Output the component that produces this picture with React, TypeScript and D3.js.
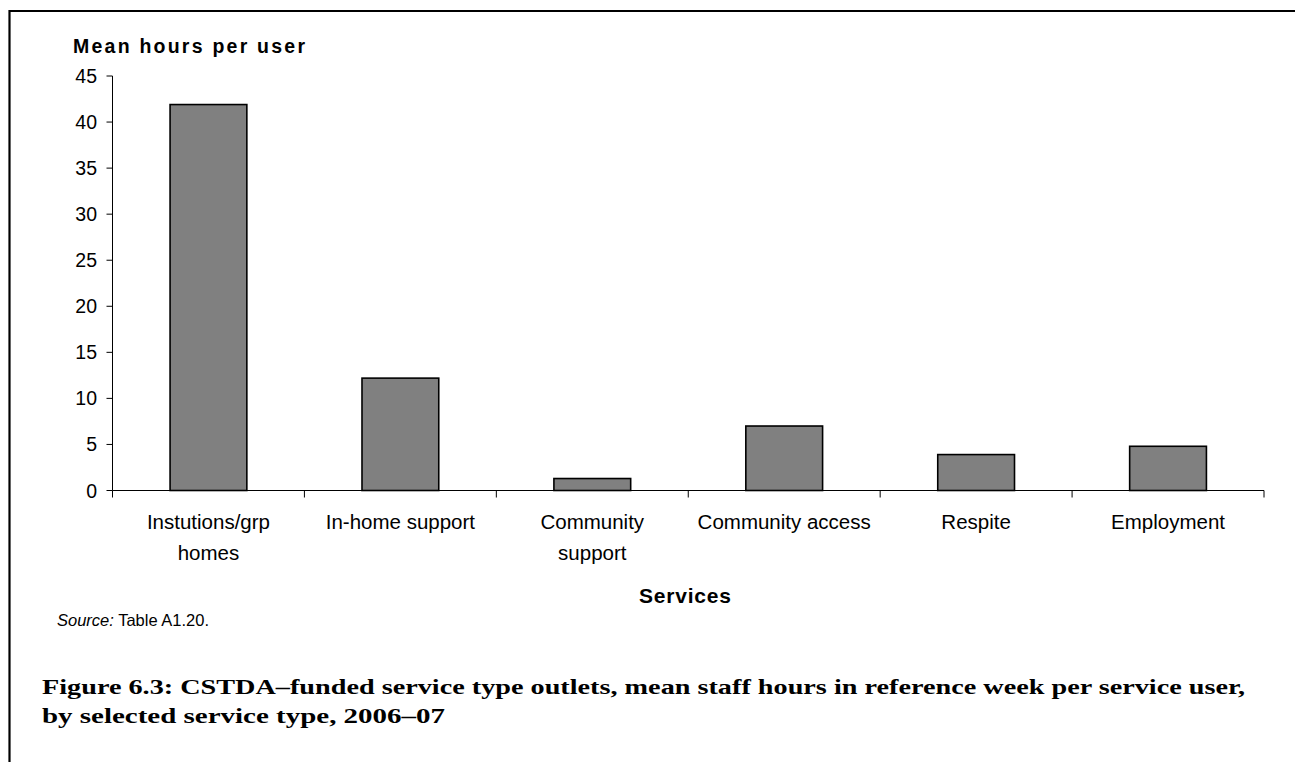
import React from "react";
import * as d3 from "d3";

// Mean staff hours per service user, by service type
const categories = [
  "Instutions/grp\nhomes",
  "In-home support",
  "Community\nsupport",
  "Community access",
  "Respite",
  "Employment",
];
const meanHours = [41.9, 12.2, 1.3, 7.0, 3.9, 4.8];
const yTicks = [0, 5, 10, 15, 20, 25, 30, 35, 40, 45];

const W = 1295;
const H = 762;
const sans = "'Liberation Sans', Arial, sans-serif";
const serif = "'Liberation Serif', 'Times New Roman', serif";

export default function App() {
  const x = d3
    .scaleBand<string>()
    .domain(categories)
    .range([112.5, 1264])
    .paddingInner(0.6)
    .paddingOuter(0.3);
  const y = d3.scaleLinear().domain([0, 45]).range([490.5, 76]);

  const step = x.step();
  const bw = x.bandwidth();
  const gap = (step - bw) / 2;
  const boundaries = categories.map((c) => (x(c) as number) - gap);
  boundaries.push(x.range()[1]);

  const x0 = x.range()[0];
  const x1 = x.range()[1];

  return (
    <svg
      width={W}
      height={H}
      style={{ position: "absolute", left: 0, top: 0, display: "block", background: "#fff" }}
    >
      {/* frame lines */}
      <line x1={9.5} y1={11} x2={W} y2={11} stroke="#000" strokeWidth={2.2} />
      <line x1={9.5} y1={10} x2={9.5} y2={H} stroke="#000" strokeWidth={2.2} />

      {/* y axis title */}
      <text
        x={73}
        y={52.5}
        fontFamily={sans}
        fontSize={19.5}
        fontWeight="bold"
        textLength={232}
        lengthAdjust="spacing"
        fill="#000"
      >
        Mean hours per user
      </text>

      {/* bars */}
      {categories.map((c, i) => (
        <rect
          key={c}
          x={x(c)}
          y={y(meanHours[i])}
          width={bw}
          height={y(0) - y(meanHours[i])}
          fill="#808080"
          stroke="#000"
          strokeWidth={1.6}
        />
      ))}

      {/* y axis */}
      <line x1={x0} y1={y(45)} x2={x0} y2={y(0)} stroke="#000" strokeWidth={1} />
      {yTicks.map((t) => (
        <g key={t}>
          <line x1={x0 - 6} y1={y(t)} x2={x0} y2={y(t)} stroke="#000" strokeWidth={1} />
          <text
            x={97}
            y={y(t)}
            dy="0.36em"
            textAnchor="end"
            fontFamily={sans}
            fontSize={19.5}
            fill="#000"
          >
            {t}
          </text>
        </g>
      ))}

      {/* x axis */}
      <line x1={x0} y1={y(0)} x2={x1} y2={y(0)} stroke="#000" strokeWidth={1} />
      {boundaries.map((b, i) => (
        <line key={i} x1={b} y1={y(0)} x2={b} y2={y(0) + 7} stroke="#000" strokeWidth={1} />
      ))}
      {categories.map((c) => {
        const cx = (x(c) as number) + bw / 2;
        return (
          <text
            key={c}
            x={cx}
            y={528.5}
            textAnchor="middle"
            fontFamily={sans}
            fontSize={20.5}
            fill="#000"
          >
            {c.split("\n").map((line, j) => (
              <tspan key={j} x={cx} dy={j === 0 ? 0 : 31}>
                {line}
              </tspan>
            ))}
          </text>
        );
      })}

      {/* x axis title */}
      <text
        x={639}
        y={603}
        fontFamily={sans}
        fontSize={21}
        fontWeight="bold"
        textLength={92}
        lengthAdjust="spacing"
        fill="#000"
      >
        Services
      </text>

      {/* source note */}
      <text x={57} y={626} fontFamily={sans} fontSize={16.5} fill="#000">
        <tspan fontStyle="italic">Source:</tspan> Table A1.20.
      </text>

      {/* figure caption */}
      <text
        x={42}
        y={694}
        fontFamily={serif}
        fontSize={22}
        fontWeight="bold"
        fill="#000"
        textLength={1203}
        lengthAdjust="spacingAndGlyphs"
      >
        Figure 6.3: CSTDA–funded service type outlets, mean staff hours in reference week per service user,
      </text>
      <text
        x={42}
        y={723}
        fontFamily={serif}
        fontSize={22}
        fontWeight="bold"
        fill="#000"
        textLength={403}
        lengthAdjust="spacingAndGlyphs"
      >
        by selected service type, 2006–07
      </text>
    </svg>
  );
}
